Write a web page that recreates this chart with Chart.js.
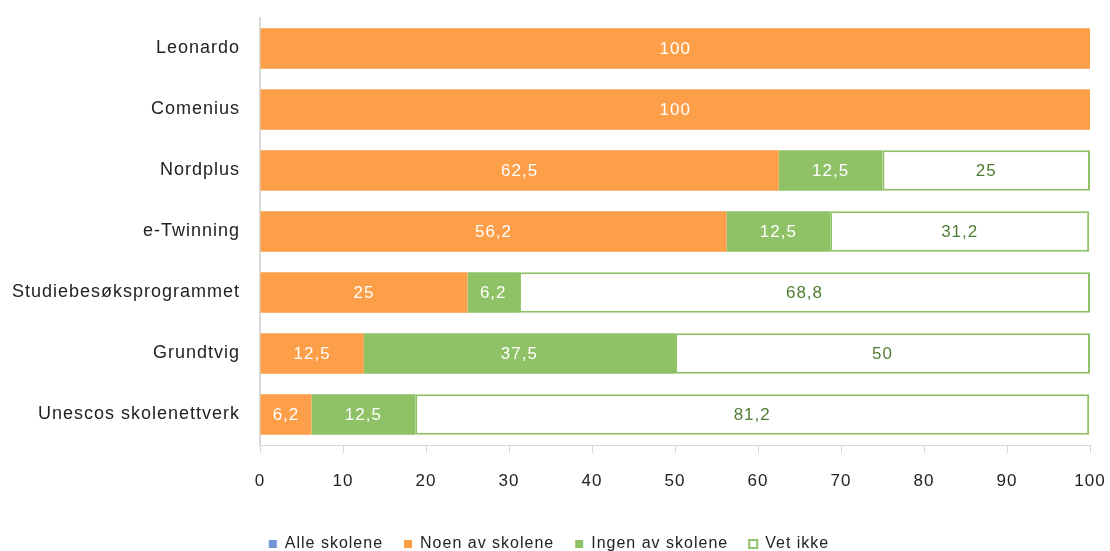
<!DOCTYPE html>
<html>
<head>
<meta charset="utf-8">
<script src="https://cdn.jsdelivr.net/npm/chart.js@4"></script>
<style>
html,body{margin:0;padding:0;background:#fff;}
#wrap{width:1110px;height:551px;}
</style>
</head>
<body>
<div id="wrap"><canvas id="c" width="1110" height="551"></canvas></div>
<script>
const categories = ["Leonardo","Comenius","Nordplus","e-Twinning","Studiebesøksprogrammet","Grundtvig","Unescos skolenettverk"];
const alleSkolene = [0,0,0,0,0,0,0];
const noenAvSkolene = [100,100,62.5,56.2,25,12.5,6.2];
const ingenAvSkolene = [0,0,12.5,12.5,6.2,37.5,12.5];
const vetIkke = [0,0,25,31.2,68.8,50,81.2];
const seriesNames = ["Alle skolene","Noen av skolene","Ingen av skolene","Vet ikke"];
const xTicks = [0,10,20,30,40,50,60,70,80,90,100];

const FONT = "'Liberation Sans', Arial, sans-serif";
const LEGEND_PAD = 21;

const spacingPlugin = {
  id: 'spacing',
  beforeInit(chart){ chart.ctx.letterSpacing = '1px'; },
  beforeLayout(chart){ chart.ctx.letterSpacing = '1px'; },
  afterLayout(chart){
    const shift = LEGEND_PAD - 10;
    chart.legend.top += shift;
    chart.legend.bottom += shift;
  },
  beforeDraw(chart){ chart.ctx.letterSpacing = '1px'; }
};

const labelPlugin = {
  id: 'barLabels',
  afterDatasetsDraw(chart){
    const ctx = chart.ctx;
    ctx.save();
    ctx.letterSpacing = '1px';
    ctx.font = "17px " + FONT;
    ctx.textAlign = 'center';
    ctx.textBaseline = 'middle';
    chart.data.datasets.forEach((ds, di) => {
      const meta = chart.getDatasetMeta(di);
      meta.data.forEach((el, i) => {
        const v = ds.data[i];
        if (!v) return;
        const cx = (el.x + el.base) / 2;
        ctx.fillStyle = ds.labelColor;
        ctx.fillText(String(v).replace('.', ','), cx, el.y + 1);
      });
    });
    ctx.restore();
  }
};

new Chart(document.getElementById('c'), {
  type: 'bar',
  data: {
    labels: categories,
    datasets: [
      {label: seriesNames[0], data: alleSkolene, backgroundColor: '#7094d8', borderWidth: 0, labelColor: '#fff'},
      {label: seriesNames[1], data: noenAvSkolene, backgroundColor: '#fd9e48', borderWidth: 0, labelColor: '#ffffff'},
      {label: seriesNames[2], data: ingenAvSkolene, backgroundColor: '#8fc166', borderWidth: 0, labelColor: '#ffffff'},
      {label: seriesNames[3], data: vetIkke, backgroundColor: '#ffffff', borderColor: '#8fc166', borderWidth: 2, borderSkipped: false, labelColor: '#4f7d35'}
    ]
  },
  options: {
    indexAxis: 'y',
    responsive: false,
    animation: false,
    devicePixelRatio: 1,
    layout: {padding: {left: 8, right: 20, top: 18, bottom: 0}},
    datasets: {bar: {barPercentage: 0.66, categoryPercentage: 1.0}},
    scales: {
      x: {
        stacked: true,
        min: 0, max: 100,
        afterBuildTicks(axis){ axis.ticks = xTicks.map(v => ({value: v})); },
        afterFit(axis){ axis.height = 59; axis.paddingLeft = 0; axis.paddingRight = 0; },
        grid: {drawOnChartArea: false, drawTicks: true, tickLength: 8, color: '#d9d9d9'},
        border: {display: true, color: '#d9d9d9', width: 1},
        ticks: {font: {family: FONT, size: 17}, color: '#222', padding: 18}
      },
      y: {
        stacked: true,
        afterFit(axis){ axis.width = 252; axis.paddingTop = 0; axis.paddingBottom = 0; },
        grid: {display: false, drawTicks: false},
        border: {display: true, color: '#d9d9d9', width: 2},
        ticks: {font: {family: FONT, size: 18}, color: '#222', padding: 20}
      }
    },
    plugins: {
      legend: {
        position: 'bottom',
        labels: {
          font: {family: FONT, size: 16},
          color: '#222',
          boxWidth: 8, boxHeight: 8,
          padding: LEGEND_PAD,
          generateLabels(chart){
            return chart.data.datasets.map((ds, i) => ({
              text: ds.label,
              fillStyle: ds.backgroundColor,
              strokeStyle: i === 3 ? ds.borderColor : ds.backgroundColor,
              lineWidth: i === 3 ? 2 : 0,
              datasetIndex: i,
              hidden: false,
              fontColor: '#222'
            }));
          }
        }
      },
      tooltip: {enabled: false}
    }
  },
  plugins: [spacingPlugin, labelPlugin]
});
</script>
</body>
</html>
